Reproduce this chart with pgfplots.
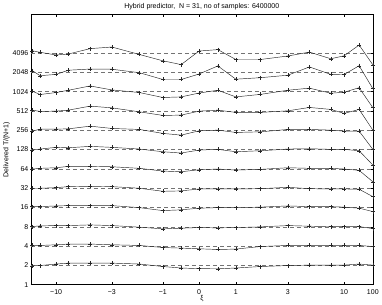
\documentclass[border=0pt]{standalone}
\usepackage{fontspec}
\setmainfont{Liberation Sans}
\usepackage{pgfplots}
\usepackage{pgfplotstable}
\pgfplotsset{compat=1.18}

% x: position on the (nonlinear) xi axis, 0 = xi 0
\pgfplotstableread{
x      a2   a4   a8   a16  a32  a64  a128  a256  a512  a1024 a2048 a4096
-166.7 1.97 4.09 8.06 16.5 31.9 63.6 125.7 247.8 526.8 1038  2169  4432
-159   1.99 4.09 8.26 16.5 31.9 65.2 130.3 266.2 502.8 923   1813  4198
-143   2.10 4.19 8.35 16.9 32.6 66.6 138.5 266.2 508.4 991   1901  3813
-130.7 2.17 4.30 8.35 17.1 33.8 70.0 136.4 269.1 526.8 1076  2208  3953
-109   2.17 4.30 8.56 17.1 34.2 70.0 143.5 296.4 608.3 1255  2304  4792
-87.3  2.17 4.19 8.35 17.1 33.8 69.0 138.5 272.9 571.9 1089  2288  5079
-59.7  2.10 4.09 7.89 15.9 31.9 65.2 130.3 263.4 495.6 991   2019  3883
-36.3  1.92 3.80 7.42 14.3 28.6 59.1 118.3 228.4 435.7 829   1583  3097
-18    1.82 3.72 7.61 14.7 29.0 57.7 112.9 214.8 440.3 847   1583  2703
0      1.78 3.63 7.78 15.6 31.1 62.0 125.7 250.6 508.4 974   1927  4399
18.7   1.77 3.54 7.69 15.9 31.1 63.6 128.9 257.0 526.8 1076  2576  4624
36.7   1.82 3.59 7.78 15.9 31.1 61.3 118.3 236.5 485.4 847   1600  3244
61.3   1.92 3.94 7.97 16.2 31.4 62.8 122.6 241.7 485.4 927   1688  3244
88.7   1.99 4.09 8.35 16.9 33.0 66.6 130.3 263.4 514.0 1076  1845  3678
110.3  2.02 4.09 8.17 16.5 31.4 65.2 131.7 263.4 580.1 1160  2484  4231
131.7  2.02 4.09 8.06 16.5 31.1 65.2 128.9 257.0 540.2 967   1901  3330
145    2.02 4.09 8.06 16.2 31.1 63.6 128.9 247.8 468.5 1002  1892  3707
160    2.10 4.09 8.06 15.6 30.8 60.7 122.6 247.8 540.2 1178  2595  5456
173.7  2.02 3.94 7.50 13.8 23.6 40.3 73.5  128.8 257.5 575   1139  2683
}\data

\begin{document}
\begin{tikzpicture}
\begin{axis}[
  width=342pt, height=270.3pt, scale only axis,
  xmin=-168.3, xmax=173.7,
  ymode=log, log basis y=2, ymin=1, ymax=16384,
  xtick={-143,-87.3,-36.3,0,36.7,88.7,145,173.7},
  xticklabels={−10,−3,−1,0,1,3,10,100},
  ytick={1,2,4,8,16,32,64,128,256,512,1024,2048,4096},
  yticklabels={1,2,4,8,16,32,64,128,256,512,1024,2048,4096},
  yminorticks=false, xminorticks=false,
  tick align=inside, tick pos=both, major tick length=3pt,
  every tick/.style={black, line width=0.4pt},
  axis line style={black, line width=0.6pt},
  font=\fontsize{7}{8}\selectfont,
  title={Hybrid predictor,\ \ N = 31, no of samples: 6400000},
  title style={yshift=-5pt},
  xlabel={ξ}, ylabel={Delivered T/(N+1)},
  xlabel style={yshift=6pt},
  ylabel style={yshift=-4pt},
  xticklabel style={yshift=-1pt},
  yticklabel style={xshift=1pt},
]
\pgfplotsinvokeforeach{2,4,8,16,32,64,128,256,512,1024,2048,4096}{
  \addplot[black!55, line width=0.5pt, dash pattern=on 4.5pt off 2.5pt, forget plot] coordinates {(-168.3,#1) (173.7,#1)};
}
\pgfplotsinvokeforeach{2,4,8,16,32,64,128,256,512,1024,2048,4096}{
  \addplot[black!85, line width=0.45pt, mark=+, mark size=2pt, mark options={solid, line width=0.4pt}] table[x=x, y=a#1] {\data};
}
\end{axis}
\end{tikzpicture}
\end{document}
